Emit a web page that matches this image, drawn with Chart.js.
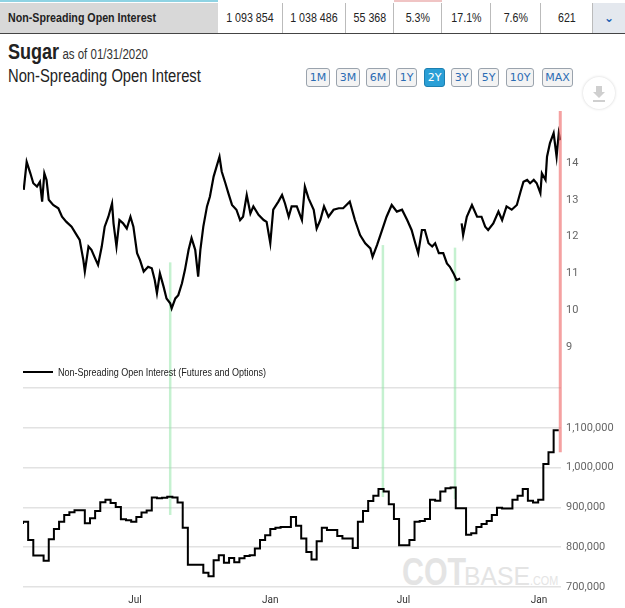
<!DOCTYPE html>
<html>
<head>
<meta charset="utf-8">
<script src="https://cdn.jsdelivr.net/npm/chart.js@4.4.1/dist/chart.umd.min.js"></script>
<style>
  body { margin: 0; width: 625px; height: 608px; background: #fff; position: relative; overflow: hidden;
         font-family: "Liberation Sans", Arial, sans-serif; }
  .nar { display: inline-block; transform: scaleX(0.82); transform-origin: left center; white-space: nowrap; }
  .narc { display: inline-block; transform: scaleX(0.82); transform-origin: center center; white-space: nowrap; }
  #strip1 { position: absolute; left: 0; top: 0; width: 218px; height: 2px; background: #8fd3e3; }
  #strip2 { position: absolute; left: 394px; top: 0; width: 48px; height: 2px; background: #f0c4c4; }
  #hdr { position: absolute; left: 0; top: 3px; height: 30px; display: flex; border-bottom: 1px solid #444; }
  #hdr div { height: 30px; line-height: 30px; font-size: 13px; color: #222; text-align: center; border-right: 1px solid #bbb; box-sizing: border-box; }
  #hdr .name { width: 218px; background: #d8d8d8; text-align: left; padding-left: 8px; font-weight: bold; border-right: none; }
  #hdr .chev { width: 32px; background: #e4e8ee; border-right: none; color: #1a5fb4; font-family: "DejaVu Sans", sans-serif; font-weight: bold; font-size: 12px; }
  #title { position: absolute; left: 8px; top: 39px; white-space: nowrap; color: #222; }
  #title .s { font-size: 22px; font-weight: bold; }
  #title .d { font-size: 14px; color: #333; margin-left: 4px; }
  #sub { position: absolute; left: 8px; top: 66px; font-size: 18px; color: #222; }
  .btn { position: absolute; top: 68px; height: 19px; line-height: 18px; box-sizing: border-box; border: 1px solid #9aa3ad; border-radius: 3px;
         background: #f3f3f3; color: #2b6cb3; font-family: "DejaVu Sans", Verdana, sans-serif; font-size: 11px; text-align: center; }
  .btn.on { background: #2a9fd6; color: #fff; border-color: #1c7fb0; }
  #dl { position: absolute; left: 583px; top: 77px; width: 32px; height: 32px; border-radius: 50%; background: #fff;
        box-shadow: 0 0 3px rgba(0,0,0,0.18); }
  .wm { position: absolute; line-height: 1; white-space: nowrap; transform-origin: left center; font-family: "Liberation Sans", Arial, sans-serif; }
  #legend { position: absolute; left: 23px; top: 366px; font-size: 11px; color: #222; white-space: nowrap; }
  #legend em { display: inline-block; width: 30px; height: 2px; background: #000; vertical-align: middle; margin-right: 5px; position: relative; top: -1px; }
  #wrap { position: absolute; left: 0; top: 95px; width: 625px; height: 513px; }
</style>
</head>
<body>
<div id="strip1"></div><div id="strip2"></div>
<div id="hdr">
  <div class="name"><span class="nar">Non-Spreading Open Interest</span></div>
  <div style="width:65px"><span class="narc">1 093 854</span></div>
  <div style="width:63px"><span class="narc">1 038 486</span></div>
  <div style="width:48px"><span class="narc">55 368</span></div>
  <div style="width:48px"><span class="narc">5.3%</span></div>
  <div style="width:49px"><span class="narc">17.1%</span></div>
  <div style="width:50px"><span class="narc">7.6%</span></div>
  <div style="width:52px"><span class="narc">621</span></div>
  <div class="chev">&#8964;</div>
</div>
<div id="title"><span class="nar"><span class="s">Sugar</span><span class="d">as of 01/31/2020</span></span></div>
<div id="sub"><span class="nar">Non-Spreading Open Interest</span></div>
<div class="btn" style="left:306px;width:24px">1M</div>
<div class="btn" style="left:336px;width:24px">3M</div>
<div class="btn" style="left:366px;width:24px">6M</div>
<div class="btn" style="left:396px;width:21px">1Y</div>
<div class="btn on" style="left:424px;width:21px">2Y</div>
<div class="btn" style="left:451px;width:21px">3Y</div>
<div class="btn" style="left:478px;width:21px">5Y</div>
<div class="btn" style="left:506px;width:28px">10Y</div>
<div class="btn" style="left:542px;width:31px">MAX</div>
<div id="dl"><svg width="32" height="32"><path d="M13 9h6v6h3l-6 6-6-6h3z M10 23h12v2H10z" fill="#cfcfcf"/></svg></div>
<div class="wm" style="left:402px;top:553px;font-size:38px;font-weight:bold;color:#e4e4e4;transform:scaleX(0.8)">COT</div>
<div class="wm" style="left:464px;top:563px;font-size:26px;color:#e4e4e4;transform:scaleX(0.95)">BASE</div>
<div class="wm" style="left:530px;top:575px;font-size:12px;color:#e4e4e4;transform:scaleX(0.9)">.COM</div>
<div id="wrap"><canvas id="chart"></canvas></div>
<div id="legend"><em></em><span class="nar">Non-Spreading Open Interest (Futures and Options)</span></div>

<script>
// weekly non-spreading open interest, first report 2018-01-30
const startDate = '2018-01-30';
const oiValues = [
  858000, 864000, 818000, 779000, 779000, 766000, 820000, 846000, 864000, 881000,
  888000, 893000, 893000, 860000, 873000, 891000, 913000, 919000, 911000, 901000,
  870000, 868000, 864000, 876000, 887000, 892000, 925000, 923000, 924000, 927000,
  925000, 912000, 849000, 756000, 756000, 756000, 736000, 727000, 767000, 780000,
  761000, 773000, 762000, 772000, 778000, 780000, 797000, 818000, 830000, 846000,
  849000, 851000, 851000, 876000, 854000, 822000, 788000, 769000, 815000, 849000,
  843000, 843000, 828000, 822000, 822000, 798000, 864000, 891000, 916000, 929000,
  946000, 940000, 908000, 871000, 805000, 805000, 818000, 864000, 866000, 871000,
  919000, 917000, 940000, 948000, 950000, 898000, 898000, 831000, 835000, 851000,
  858000, 866000, 881000, 899000, 897000, 897000, 919000, 929000, 946000, 917000,
  912000, 919000, 1009000, 1038486, 1093854
];

// sugar price (cents/lb), day offsets from startDate
const priceDays = [
  1, 5, 10, 14, 19, 23, 26, 29, 32, 35, 41, 48, 53, 59, 66, 73, 77, 82, 84, 89,
  93, 98, 102, 107, 111, 116, 121, 123, 127, 131, 136, 141, 146, 150, 155, 159, 164, 170, 175, 179,
  182, 186, 191, 195, 200, 202, 207, 211, 216, 220, 225, 229, 234, 238, 241, 245, 250, 254, 259, 263,
  267, 270, 275, 279, 284, 290, 295, 299, 304, 309, 313, 320, 327, 331, 336, 340, 347, 352, 356, 361,
  365, 372, 379, 383, 388, 395, 399, 404, 409, 415, 422, 429, 435, 444, 451, 458, 465, 472, 475, 481,
  488, 494, 501, 508, 515, 522, 528, 533, 537, 542, 546, 551, 556, 560, 565, 571, 576, 580, 585, 589,
  594, 595, 596, 598, 603, 610, 617, 623, 628, 632, 639, 646, 651, 657, 664, 671, 676, 680, 685, 689,
  694, 698, 703, 705, 710, 712, 716, 721, 725, 728, 730
];
const priceValues = [
  13.27, 14.03, 13.72, 13.45, 13.36, 13.49, 12.95, 13.72, 13.54, 13.00, 12.86, 12.77, 12.54, 12.40, 12.27, 12.04, 11.91, 11.36, 11.05, 11.73,
  11.64, 11.41, 11.23, 11.73, 12.27, 12.54, 12.90, 12.36, 11.73, 12.45, 12.36, 12.22, 12.54, 12.27, 11.55, 11.36, 11.05, 11.18, 11.14, 10.82,
  10.46, 11.00, 10.64, 10.32, 10.19, 10.05, 10.32, 10.41, 10.73, 11.09, 11.64, 11.96, 11.64, 10.91, 11.64, 12.27, 12.82, 13.09, 13.63, 13.90,
  14.17, 13.77, 13.45, 13.18, 12.86, 12.73, 12.45, 12.54, 13.13, 12.63, 12.82, 12.59, 12.45, 12.40, 11.82, 12.73, 12.95, 13.13, 12.90, 12.54,
  12.82, 12.82, 12.45, 13.36, 13.04, 12.73, 12.22, 12.45, 12.82, 12.54, 12.73, 12.77, 12.77, 12.95, 12.45, 12.04, 11.82, 11.68, 11.45, 11.77,
  12.18, 12.54, 12.86, 12.68, 12.73, 12.45, 12.18, 11.82, 11.55, 12.18, 12.18, 11.82, 11.73, 11.82, 11.55, 11.55, 11.27, 11.18, 11.00, 10.82,
  10.86, null, 12.36, 12.04, 12.54, 12.86, 12.54, 12.54, 12.27, 12.18, 12.36, 12.68, 12.45, 12.82, 12.73, 12.86, 13.22, 13.49, 13.54, 13.45,
  13.54, 13.45, 13.18, 13.72, 13.54, 14.17, 14.54, 14.81, 14.17, 14.81, 14.62
];

const tickDates = ['2018-07-01', '2019-01-01', '2019-07-01', '2020-01-01'];
const tickLabels = ['Jul', 'Jan', 'Jul', 'Jan'];
const priceTicks = [9, 10, 11, 12, 13, 14];
const oiTicks = [700000, 800000, 900000, 1000000, 1100000, 1200000];

// highlighted weeks (price low / OI peak)
const markerDays = [200, 489, 587];
const markerPriceTop = [11.3, 11.77, 11.7];
const markerOiBottom = [881000, 926000, 921000];

const dayOf = (s) => Math.round((Date.parse(s) - Date.parse(startDate)) / 86400000);
const lastDay = dayOf('2020-01-31');

const markers = {
  id: 'markers',
  beforeDatasetsDraw(chart) {
    const { ctx, scales } = chart;
    ctx.save();
    ctx.strokeStyle = 'rgba(150, 230, 170, 0.55)';
    ctx.lineWidth = 2.5;
    markerDays.forEach((d, i) => {
      const x = scales.x.getPixelForValue(d);
      ctx.beginPath();
      ctx.moveTo(x, scales.yPrice.getPixelForValue(markerPriceTop[i]));
      ctx.lineTo(x, scales.yOi.getPixelForValue(markerOiBottom[i]));
      ctx.stroke();
    });
    ctx.restore();
  },
  afterDatasetsDraw(chart) {
    const { ctx, scales, chartArea } = chart;
    const x = scales.x.getPixelForValue(priceDays[priceDays.length - 1]);
    ctx.save();
    ctx.strokeStyle = 'rgba(240, 110, 110, 0.65)';
    ctx.lineWidth = 3;
    ctx.beginPath();
    ctx.moveTo(x, chartArea.top);
    ctx.lineTo(x, scales.yOi.getPixelForValue(oiValues[oiValues.length - 2]));
    ctx.stroke();
    ctx.restore();
  }
};

const tickFont = { family: 'Roboto, "Liberation Sans", sans-serif', size: 11 };

new Chart(document.getElementById('chart'), {
  type: 'line',
  data: {
    datasets: [{
      label: 'Sugar',
      data: priceDays.map((d, i) => ({ x: d, y: priceValues[i] })),
      yAxisID: 'yPrice',
      borderColor: '#000',
      borderWidth: 2.2,
      pointRadius: 0,
      tension: 0
    }, {
      label: 'Non-Spreading Open Interest (Futures and Options)',
      data: oiValues.map((v, i) => ({ x: i * 7, y: v })),
      yAxisID: 'yOi',
      borderColor: '#000',
      borderWidth: 2,
      pointRadius: 0,
      stepped: 'after'
    }]
  },
  options: {
    responsive: true,
    maintainAspectRatio: false,
    animation: false,
    layout: { padding: { top: 16, left: 23, right: 0, bottom: 0 } },
    plugins: { legend: { display: false }, tooltip: { enabled: false } },
    scales: {
      x: {
        type: 'linear',
        min: 0,
        max: lastDay,
        grid: { display: false, drawTicks: false },
        border: { display: false },
        afterBuildTicks: (axis) => { axis.ticks = tickDates.map((s) => ({ value: dayOf(s) })); },
        afterFit: (axis) => { axis.height = 21; },
        ticks: {
          padding: 7,
          color: '#333',
          font: { family: 'Roboto, "Liberation Sans", sans-serif', size: 10 },
          maxRotation: 0,
          callback: (v, i) => tickLabels[i]
        }
      },
      yPrice: {
        type: 'linear',
        position: 'right',
        stack: 'panels',
        stackWeight: 277,
        min: 7.886,
        max: 15.413,
        grid: { display: false, drawTicks: false },
        border: { display: false },
        afterBuildTicks: (axis) => { axis.ticks = priceTicks.map((v) => ({ value: v })); },
        afterFit: (axis) => { axis.width = 64; },
        ticks: { padding: 5, color: '#666', font: tickFont }
      },
      yOi: {
        type: 'linear',
        position: 'right',
        stack: 'panels',
        stackWeight: 199,
        min: 700000,
        max: 1200000,
        grid: { color: '#e2e2e2', lineWidth: 1.5, drawTicks: false },
        border: { display: false },
        afterBuildTicks: (axis) => { axis.ticks = oiTicks.map((v) => ({ value: v })); },
        afterFit: (axis) => { axis.width = 64; },
        ticks: {
          padding: 5,
          color: '#666',
          font: tickFont,
          callback: (v) => (v >= 1200000 ? '' : v.toLocaleString('en-US'))
        }
      }
    }
  },
  plugins: [markers]
});
</script>
</body>
</html>
